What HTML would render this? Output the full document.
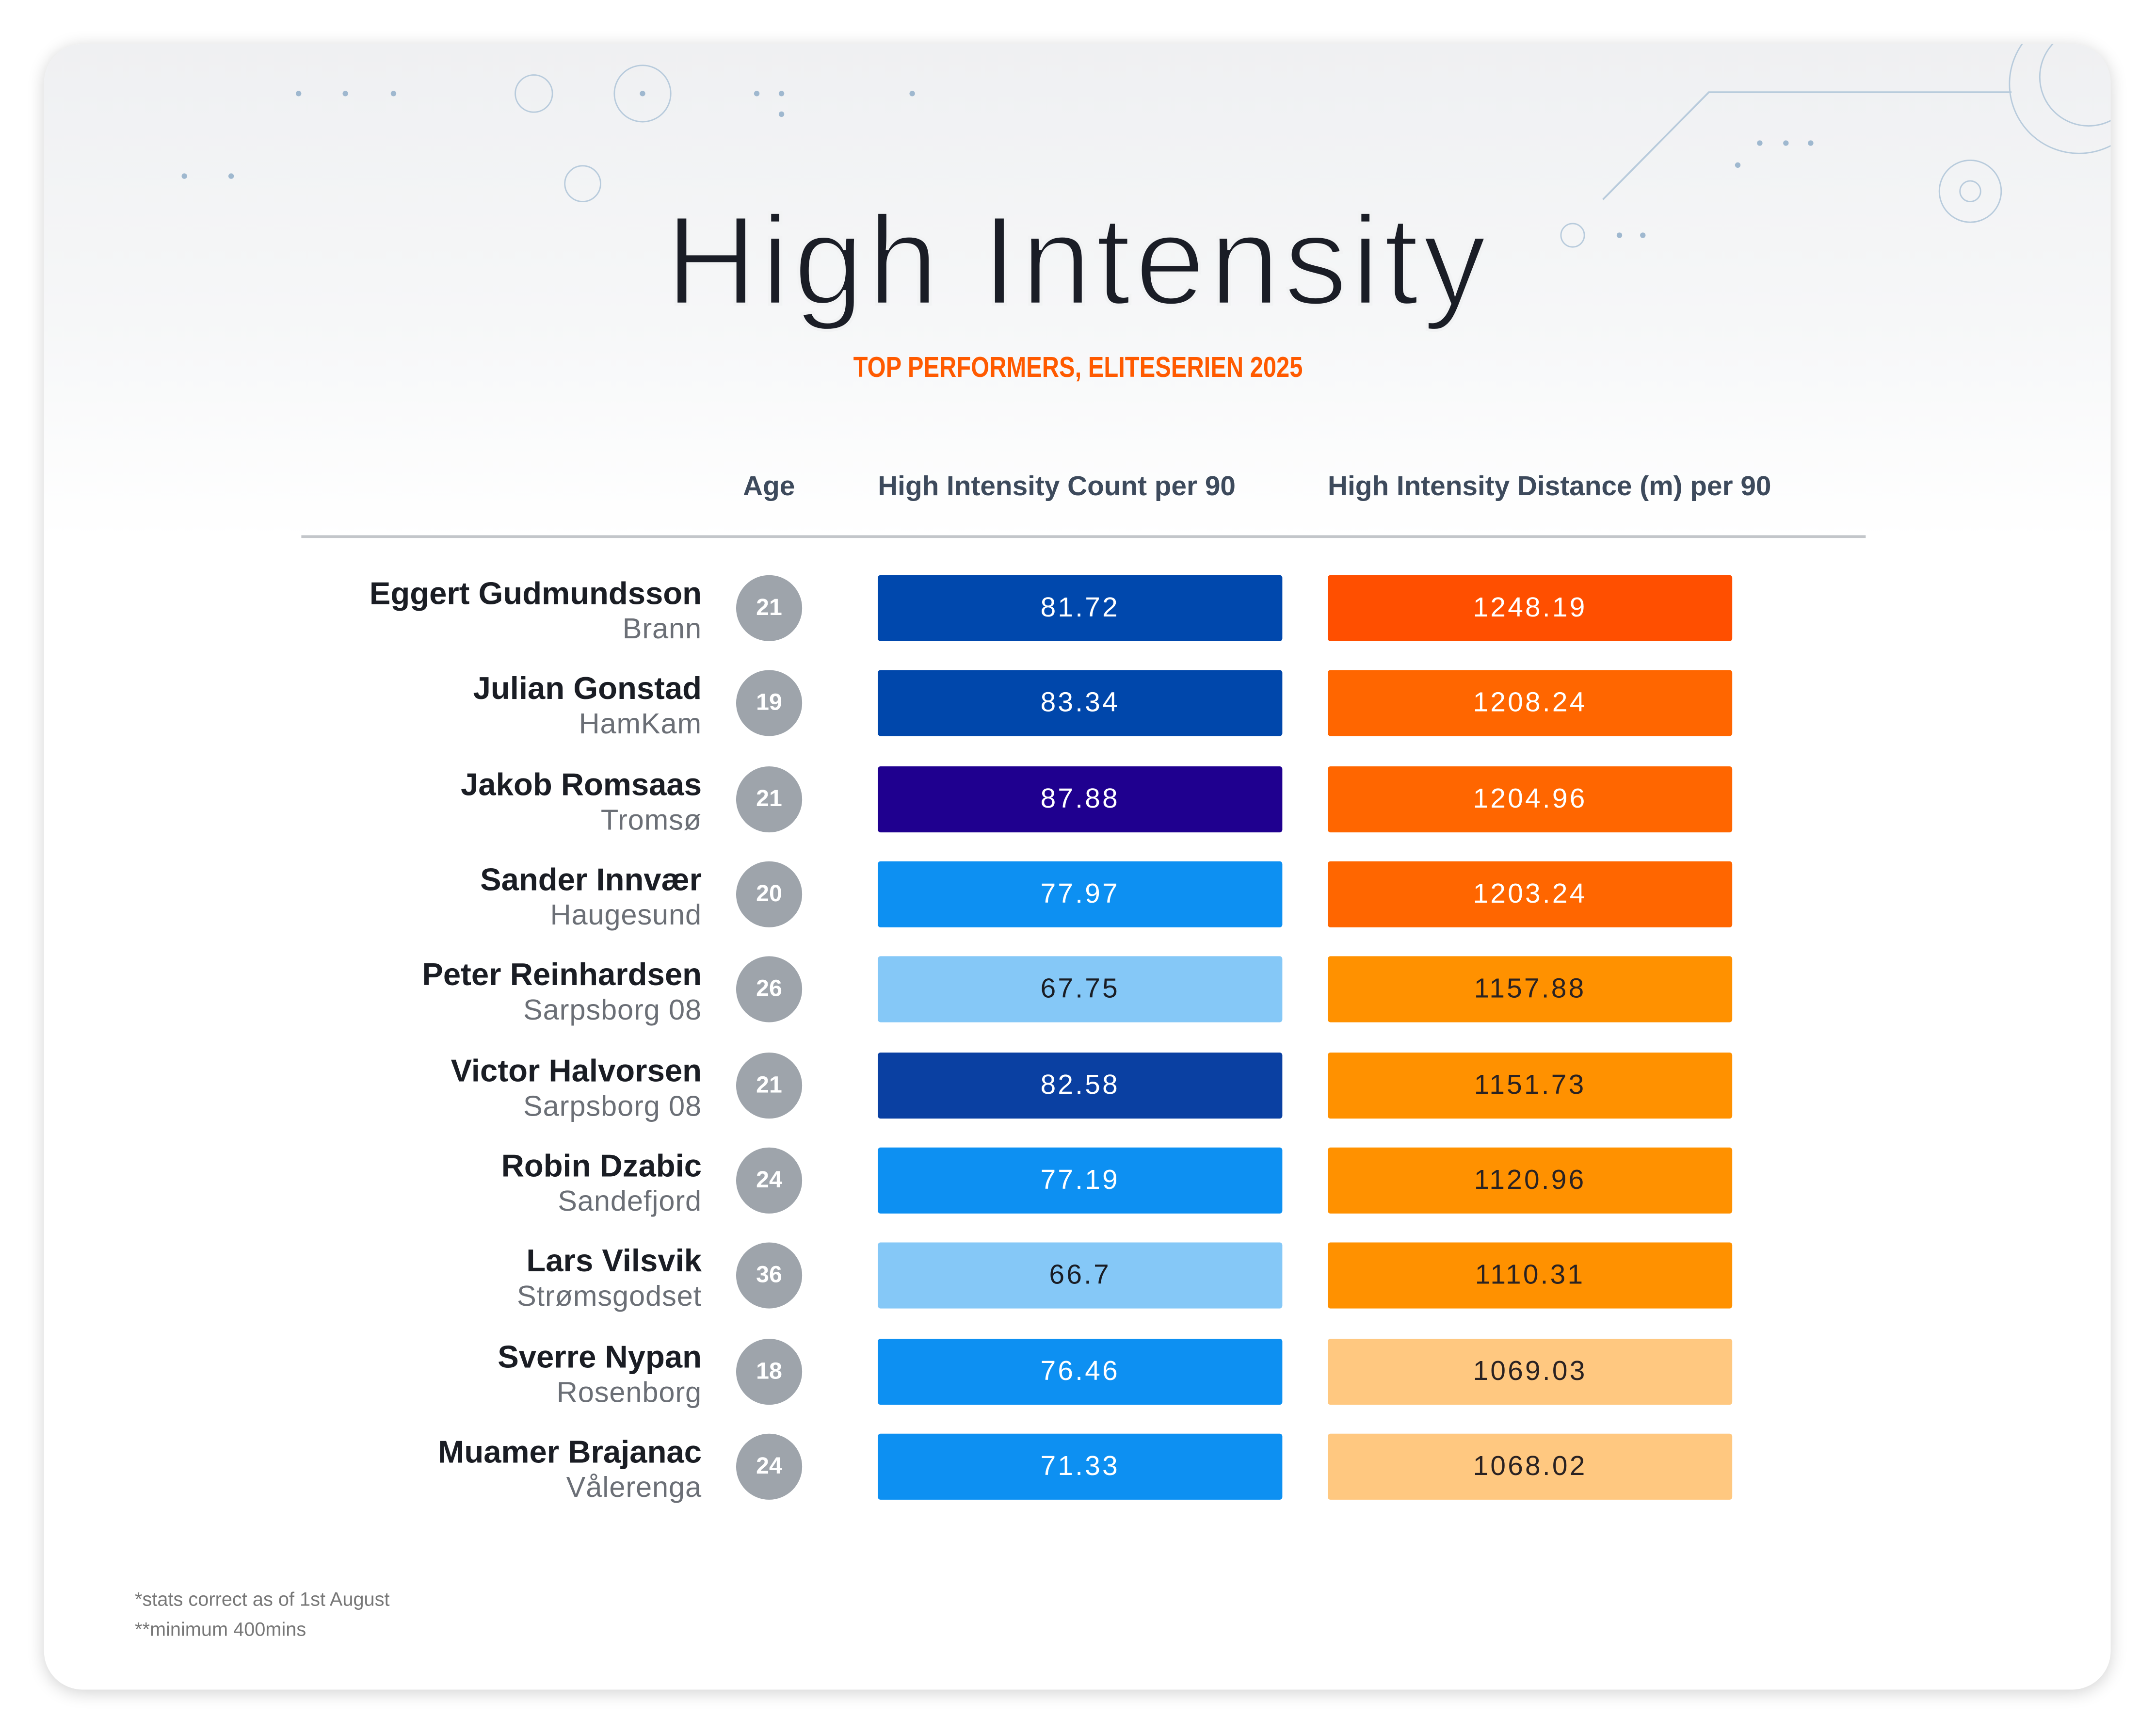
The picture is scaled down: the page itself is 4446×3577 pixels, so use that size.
<!DOCTYPE html>
<html><head><meta charset="utf-8"><style>
html,body{margin:0;padding:0;background:#fff;width:4446px;height:3577px;overflow:hidden}
#w{position:absolute;left:0;top:0;width:1567px;height:1261px;transform:scale(2.8373,2.8366);transform-origin:0 0;font-family:"Liberation Sans",sans-serif}
.card{position:absolute;left:32px;top:32px;width:1502px;height:1196px;border-radius:28px;background:linear-gradient(#eff0f2 0px,#f6f7f8 200px,#fff 360px);box-shadow:0 2px 12px rgba(0,0,0,.18)}
.clip{position:absolute;left:32px;top:32px;width:1502px;height:1196px;border-radius:28px;overflow:hidden}
.in{position:absolute;left:-32px;top:-32px;width:1567px;height:1261px}
.a{position:absolute}
.name{position:absolute;right:1057px;text-align:right;font-weight:bold;font-size:23px;color:#1a1d24;white-space:nowrap}
.team{position:absolute;right:1057px;text-align:right;font-size:21px;color:#6b6f76;white-space:nowrap;letter-spacing:.3px}
.age{position:absolute;left:535px;width:48px;height:48px;border-radius:50%;background:#9ea4ab;color:#fff;font-weight:bold;font-size:17px;line-height:48px;text-align:center}
.bar{position:absolute;width:294px;height:48px;border-radius:2px;line-height:48px;text-align:center;font-size:20px;letter-spacing:1.5px;color:#fff}
.hd{position:absolute;top:343px;font-weight:bold;font-size:20px;color:#3d4a5c;white-space:nowrap}
.dot{position:absolute;width:4px;height:4px;border-radius:50%;background:#9fb8cf}
.ring{position:absolute;border:1.5px solid #b8cbdc;border-radius:50%}
</style></head><body><div id="w">
<div class="card"></div>
<div class="clip"><div class="in">
<div class="dot" style="left:215px;top:66px"></div><div class="dot" style="left:249px;top:66px"></div><div class="dot" style="left:284px;top:66px"></div>
<div class="dot" style="left:132px;top:126px"></div><div class="dot" style="left:166px;top:126px"></div>
<div class="dot" style="left:548px;top:66px"></div><div class="dot" style="left:566px;top:66px"></div><div class="dot" style="left:566px;top:81px"></div><div class="dot" style="left:661px;top:66px"></div>
<div class="dot" style="left:1277px;top:102px"></div><div class="dot" style="left:1296px;top:102px"></div><div class="dot" style="left:1314px;top:102px"></div><div class="dot" style="left:1261px;top:118px"></div>
<div class="dot" style="left:1175px;top:169px"></div><div class="dot" style="left:1192px;top:169px"></div>
<div class="ring" style="left:374px;top:54px;width:26px;height:26px"></div>
<div class="ring" style="left:446px;top:47px;width:40px;height:40px"></div><div class="dot" style="left:465px;top:66px"></div>
<div class="ring" style="left:410px;top:120px;width:25px;height:25px"></div>
<div class="ring" style="left:1134px;top:162px;width:16px;height:16px"></div>
<div class="ring" style="left:1409px;top:116px;width:44px;height:44px"></div><div class="ring" style="left:1424px;top:131px;width:14px;height:14px"></div>
<div class="ring" style="left:1460px;top:10px;width:100px;height:100px"></div><div class="ring" style="left:1482px;top:20px;width:70px;height:70px"></div>
<svg class="a" style="left:0;top:0" width="1567" height="200"><polyline points="1165,145 1242,67 1462,67" fill="none" stroke="#b8cbdc" stroke-width="1.3"/></svg>
</div></div>
<div class="a" style="left:0;width:1567px;top:130px;text-align:center;font-size:92px;letter-spacing:3px;color:#1a1d26;line-height:120px;-webkit-text-stroke:2.2px #f2f3f4">High Intensity</div>
<div class="a" style="left:0;width:1567px;top:254px;text-align:center;font-size:21px;color:#ff5a00;line-height:28px;transform:scaleX(.82);font-weight:bold">TOP PERFORMERS, ELITESERIEN 2025</div>
<div class="hd" style="left:540px">Age</div>
<div class="hd" style="left:638px">High Intensity Count per 90</div>
<div class="hd" style="left:965px">High Intensity Distance (m) per 90</div>
<div class="a" style="left:219px;top:389px;width:1137px;height:1.5px;background:#c3c6ca"></div>
<div id="rows"></div>
<div class="a" style="left:98px;top:1154px;font-size:14px;color:#777">*stats correct as of 1st August</div>
<div class="a" style="left:98px;top:1176px;font-size:14px;color:#777">**minimum 400mins</div>
<script>
var d=[["Eggert Gudmundsson","Brann",21,"81.72","#0048ad","1248.19","#ff4f00"],
["Julian Gonstad","HamKam",19,"83.34","#0047ab","1208.24","#ff6600"],
["Jakob Romsaas","Tromsø",21,"87.88","#1f008f","1204.96","#ff6600"],
["Sander Innvær","Haugesund",20,"77.97","#0d90f2","1203.24","#ff6600"],
["Peter Reinhardsen","Sarpsborg 08",26,"67.75","#85c8f7","1157.88","#ff9100"],
["Victor Halvorsen","Sarpsborg 08",21,"82.58","#0a40a2","1151.73","#ff9100"],
["Robin Dzabic","Sandefjord",24,"77.19","#0d90f2","1120.96","#ff9100"],
["Lars Vilsvik","Strømsgodset",36,"66.7","#85c8f7","1110.31","#ff9100"],
["Sverre Nypan","Rosenborg",18,"76.46","#0d90f2","1069.03","#ffc880"],
["Muamer Brajanac","Vålerenga",24,"71.33","#0d90f2","1068.02","#ffc880"]];
var h="";d.forEach(function(r,i){var c=442+i*69.33;
var t1=(r[4]=="#85c8f7")?"#1a1d24":"#fff";var t2=(r[6]=="#ff9100"||r[6]=="#ffc880")?"#2a2222":"#fff";
h+='<div class="name" style="top:'+(c-24)+'px">'+r[0]+'</div><div class="team" style="top:'+(c+4)+'px">'+r[1]+'</div>'+
'<div class="age" style="top:'+(c-24)+'px">'+r[2]+'</div>'+
'<div class="bar" style="left:638px;top:'+(c-24)+'px;background:'+r[4]+';color:'+t1+'">'+r[3]+'</div>'+
'<div class="bar" style="left:965px;top:'+(c-24)+'px;background:'+r[6]+';color:'+t2+'">'+r[5]+'</div>';});
document.getElementById("rows").innerHTML=h;
</script>
</div></body></html>
